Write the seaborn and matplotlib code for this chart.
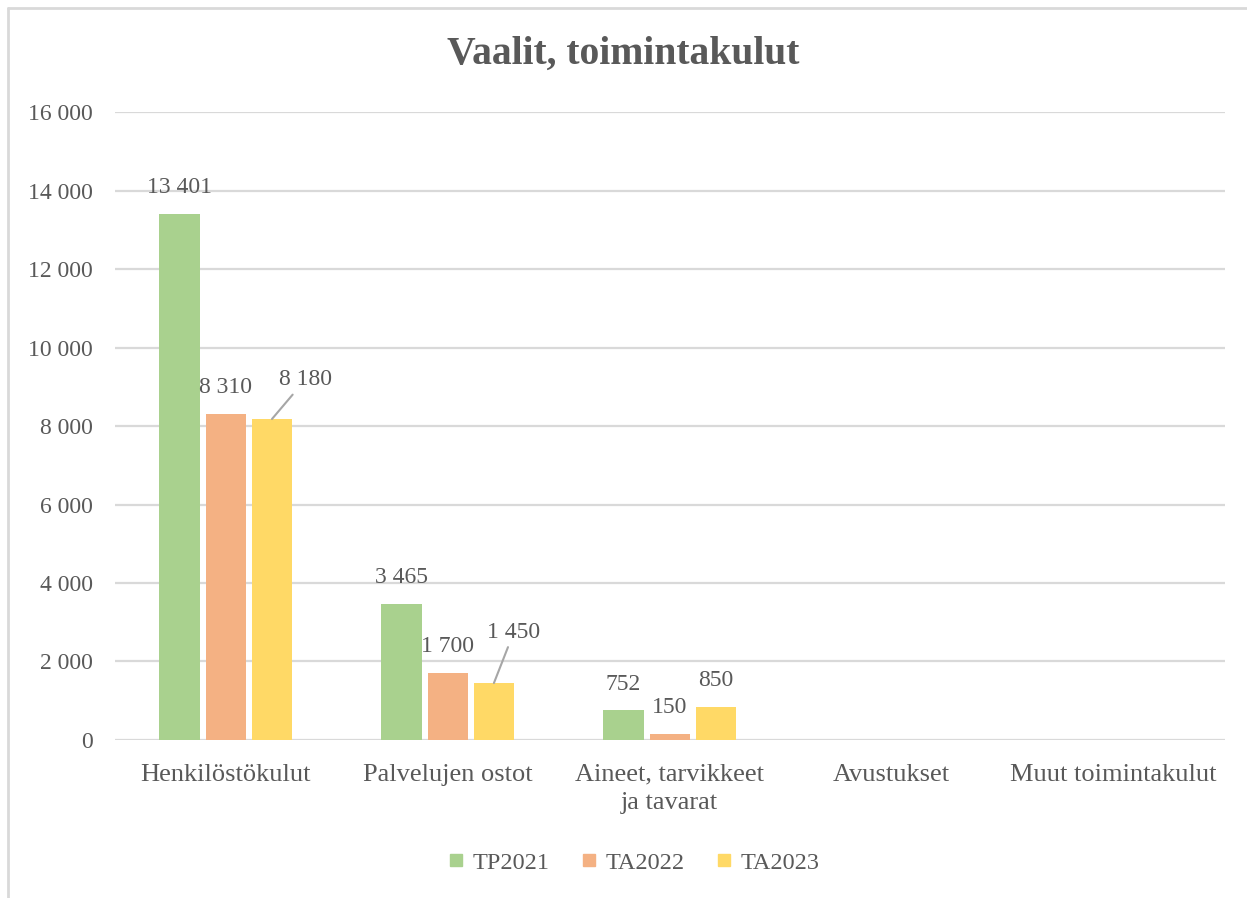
import pandas as pd
import matplotlib.pyplot as plt
import seaborn as sns
from matplotlib.lines import Line2D

kategoriat = ['Henkilöstökulut', 'Palvelujen ostot', 'Aineet, tarvikkeet\nja tavarat',
              'Avustukset', 'Muut toimintakulut']
sarjat = ['TP2021', 'TA2022', 'TA2023']
tp2021 = [13401, 3465, 752, 0, 0]
ta2022 = [8310, 1700, 150, 0, 0]
ta2023 = [8180, 1450, 850, 0, 0]
varit = ['#a9d18e', '#f4b183', '#ffd966']

rows = []
for s, vals in zip(sarjat, [tp2021, ta2022, ta2023]):
    for k, v in zip(kategoriat, vals):
        rows.append({'Kategoria': k, 'Sarja': s, 'Arvo': v})
df = pd.DataFrame(rows)

sns.set_style("white")
plt.rcParams['font.family'] = ['Liberation Serif', 'DejaVu Serif']
harmaa = '#595959'

fig = plt.figure(figsize=(12.47, 8.98), dpi=100)
ax = fig.add_axes([0.092, 0.176, 0.89, 0.699])
sns.barplot(data=df, x='Kategoria', y='Arvo', hue='Sarja', palette=varit,
            saturation=1, width=0.625, gap=0.13, linewidth=0, ax=ax, legend=False)

ax.set_ylim(0, 16000)
ax.set_yticks(range(0, 16001, 2000))
ax.set_yticklabels([f"{t:,}".replace(',', ' ') for t in range(0, 16001, 2000)],
                   fontsize=17, color=harmaa)
ax.tick_params(axis='x', labelsize=19, colors=harmaa, length=0, pad=17)
ax.tick_params(axis='y', length=0, pad=16)
for lab in ax.get_xticklabels():
    lab.set_color(harmaa)
    lab.set_linespacing(1.4)
ax.set_xlabel('')
ax.set_ylabel('')
ax.grid(axis='y', color='#d9d9d9', linewidth=1.6)
ax.set_axisbelow(True)
for sp in ax.spines.values():
    sp.set_visible(False)

# data labels
fmt = lambda v: f"{v:,}".replace(',', ' ')
for i, (s, vals) in enumerate(zip(sarjat, [tp2021, ta2022, ta2023])):
    cont = ax.containers[i]
    for j, (bar, v) in enumerate(zip(cont, vals)):
        if v == 0:
            continue
        x = bar.get_x() + bar.get_width() / 2
        if s == 'TA2023' and j < 2:
            dx, dy = (0.15, 1000) if j == 0 else (0.09, 1300)
            ax.annotate(fmt(v), xy=(x, v), xytext=(x + dx, v + dy),
                        ha='center', va='center', fontsize=17, color=harmaa,
                        arrowprops=dict(arrowstyle='-', color='#a6a6a6', lw=1.5,
                                        shrinkA=1, shrinkB=0))
        else:
            ax.annotate(fmt(v), xy=(x, v), xytext=(0, 19), textcoords='offset points',
                        ha='center', va='center', fontsize=17, color=harmaa)

fig.suptitle('Vaalit, toimintakulut', y=0.96, fontsize=28.5, fontweight='bold', color=harmaa)

handles = [Line2D([], [], marker='s', linestyle='', markersize=9, color=c) for c in varit]
fig.legend(handles, sarjat, loc='center', bbox_to_anchor=(0.508, 0.039), ncol=3,
           frameon=False, fontsize=17.5, labelcolor=harmaa, handlelength=0.7,
           handletextpad=0.3, columnspacing=1.3)

# chart border
fig.add_artist(Line2D([8 / 1247, 1.0], [1 - 8 / 898, 1 - 8 / 898], color='#d9d9d9', lw=2))
fig.add_artist(Line2D([8 / 1247, 8 / 1247], [0, 1 - 8 / 898], color='#d9d9d9', lw=2))

fig.savefig('out.png', dpi=100)
